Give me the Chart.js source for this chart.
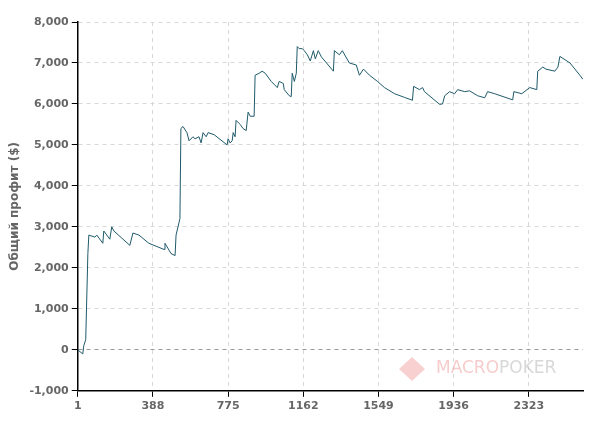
<!DOCTYPE html>
<html><head><meta charset="utf-8">
<script src="https://cdn.jsdelivr.net/npm/chart.js@4"></script>
<style>body{margin:0;background:#fff}#w{width:600px;height:428px}</style>
</head><body><div id="w"><canvas id="c"></canvas></div>
<script>
const handX=[1,27,32,42,53,58,89,99,130,135,166,176,187,269,285,316,367,419,445,450,481,502,507,522,527,532,543,563,574,594,605,625,636,646,662,672,703,770,775,785,796,801,811,816,837,852,868,878,889,909,914,935,950,966,997,1028,1038,1059,1064,1090,1100,1105,1116,1126,1131,1141,1157,1167,1183,1198,1214,1224,1239,1255,1317,1322,1348,1363,1399,1435,1451,1472,1503,1544,1580,1632,1683,1724,1730,1760,1776,1786,1864,1879,1890,1915,1941,1957,1993,2018,2060,2096,2111,2147,2240,2246,2287,2328,2364,2369,2395,2411,2457,2473,2483,2535,2586,2602];
const profit=[0,-100,100,250,2350,2800,2750,2800,2600,2900,2700,3000,2900,2550,2850,2800,2600,2500,2450,2600,2350,2300,2800,3100,3200,5400,5450,5300,5100,5200,5150,5200,5050,5300,5200,5300,5250,5000,5150,5050,5100,5300,5200,5600,5500,5400,5350,5800,5700,5700,6700,6750,6800,6750,6550,6400,6550,6500,6350,6200,6180,6750,6550,6750,7400,7350,7350,7300,7200,7050,7300,7100,7300,7150,6800,7300,7200,7300,7000,6950,6700,6850,6700,6550,6400,6250,6160,6090,6430,6350,6400,6300,5990,6000,6200,6300,6250,6350,6300,6320,6200,6150,6300,6250,6100,6300,6250,6400,6350,6800,6900,6850,6800,6900,7160,7000,6700,6600];
const xTicks=[1,388,775,1162,1549,1936,2323];
const yTitle="Общий профит ($)";
const pts=handX.map((x,i)=>({x,y:profit[i]}));
const wm={id:'wm',afterDatasetsDraw(ch){const c=ch.ctx;c.save();c.font='17px "DejaVu Sans"';c.textBaseline='middle';c.fillStyle='rgba(240,170,170,0.6)';c.fillText('MACRO',436,369);c.fillStyle='rgba(200,200,200,0.7)';c.fillText('POKER',436+c.measureText('MACRO').width,369);
c.fillStyle='rgba(240,150,150,0.45)';c.beginPath();c.moveTo(412,357);c.lineTo(425,369);c.lineTo(412,381);c.lineTo(399,369);c.closePath();c.fill();c.restore();}};
const font={family:'"DejaVu Sans", Verdana',size:11,weight:'bold'};
new Chart(document.getElementById('c'),{type:'line',data:{datasets:[{data:pts,borderColor:'#1f5a6a',borderWidth:1,pointRadius:0,tension:0}]},
options:{responsive:true,maintainAspectRatio:false,animation:false,layout:{padding:{left:4,right:17,top:22,bottom:12}},
plugins:{legend:{display:false},tooltip:{enabled:false}},
scales:{x:{type:'linear',min:1,max:2602,afterBuildTicks(a){a.ticks=xTicks.map(v=>({value:v}));},
ticks:{color:'#666',font,autoSkip:false,maxRotation:0,callback:v=>String(v)},border:{color:'#000',width:1.5,dash:[4,4]},
grid:{color:'#d8d8d8',tickLength:6,tickColor:'#000'}},
y:{min:-1000,max:8000,ticks:{stepSize:1000,color:'#666',font,callback:v=>v.toLocaleString('en-US')},border:{color:'#000',width:1.5,dash:[4,4]},
grid:{color:c=>c.tick&&c.tick.value===0?'#999':'#d8d8d8',tickLength:6,tickColor:'#000'},
title:{display:true,text:yTitle,color:'#666',font:{family:'"DejaVu Sans"',size:12,weight:'bold'}}}}},plugins:[wm]});
</script></body></html>
